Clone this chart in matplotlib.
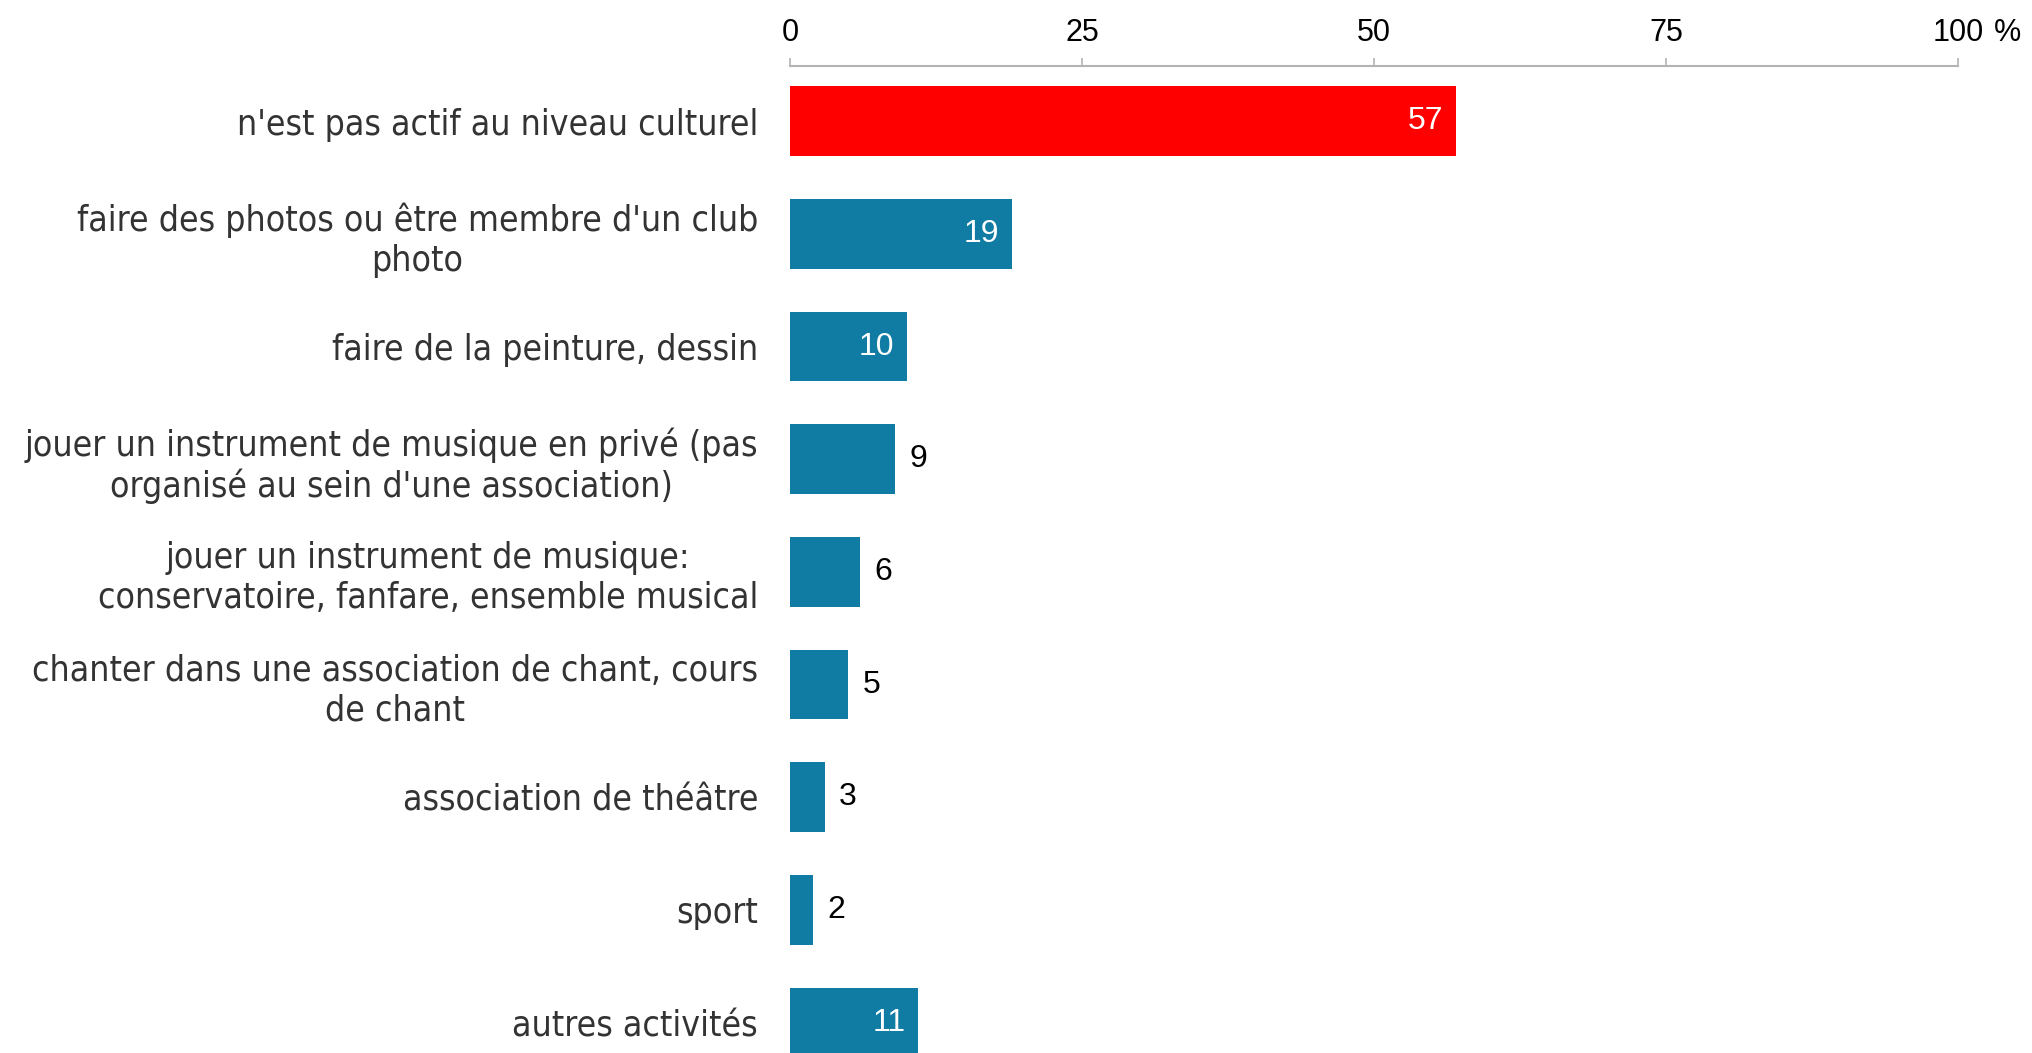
import matplotlib
matplotlib.use("Agg")
import matplotlib.pyplot as plt

categories = [
    "n'est pas actif au niveau culturel",
    "faire des photos ou être membre d'un club\nphoto",
    "faire de la peinture, dessin",
    "jouer un instrument de musique en privé (pas\norganisé au sein d'une association)",
    "jouer un instrument de musique:\nconservatoire, fanfare, ensemble musical",
    "chanter dans une association de chant, cours\nde chant",
    "association de théâtre",
    "sport",
    "autres activités",
]
values = [57, 19, 10, 9, 6, 5, 3, 2, 11]
highlight = [True, False, False, False, False, False, False, False, False]
ticks = [0, 25, 50, 75, 100]
tick_labels = ["0", "25", "50", "75", "100"]
unit = "%"

RED = "#ff0000"
BLUE = "#107ba3"
GRID = "#b4b4b4"

fig = plt.figure(figsize=(20.33, 10.53), dpi=100)
ax = fig.add_axes([790 / 2033, 0, (1958 - 790) / 2033, (1053 - 66) / 1053])

ypos = list(range(len(values)))
colors = [RED if h else BLUE for h in highlight]
ax.barh(ypos, values, height=0.62, color=colors)

ax.set_xlim(0, 100)
ax.set_ylim(8.27, -0.49)

# value labels: inside (white) for long bars, outside (black) for short ones
for y, v in zip(ypos, values):
    if v >= 10:
        ax.annotate(str(v), (v, y), xytext=(-9, 0), textcoords="offset points",
                    ha="right", va="center", color="white", fontsize=23,
                    family="Liberation Sans")
    else:
        ax.annotate(str(v), (v, y), xytext=(10, 0), textcoords="offset points",
                    ha="left", va="center", color="black", fontsize=23,
                    family="Liberation Sans")

ax.set_yticks(ypos)
ax.set_yticklabels(categories, fontsize=25.5, color="#333333",
                   family="DejaVu Sans", fontstretch="condensed")
for lbl in ax.get_yticklabels():
    lbl.set_multialignment("center")
ax.tick_params(axis="y", length=0, pad=23)

ax.xaxis.tick_top()
ax.set_xticks(ticks)
ax.set_xticklabels(tick_labels, fontsize=22, family="Liberation Sans")
ax.tick_params(axis="x", direction="out", length=6, width=1.2, color=GRID, pad=7)

# unit sign next to the last tick label
ax.annotate(unit, (100, 1), xycoords=("data", "axes fraction"),
            xytext=(26, 24), textcoords="offset points",
            ha="left", va="center", fontsize=22, family="Liberation Sans")

for side in ["right", "bottom", "left"]:
    ax.spines[side].set_visible(False)
ax.spines["top"].set_color(GRID)
ax.spines["top"].set_linewidth(1.5)

fig.savefig("out.png", dpi=100)
